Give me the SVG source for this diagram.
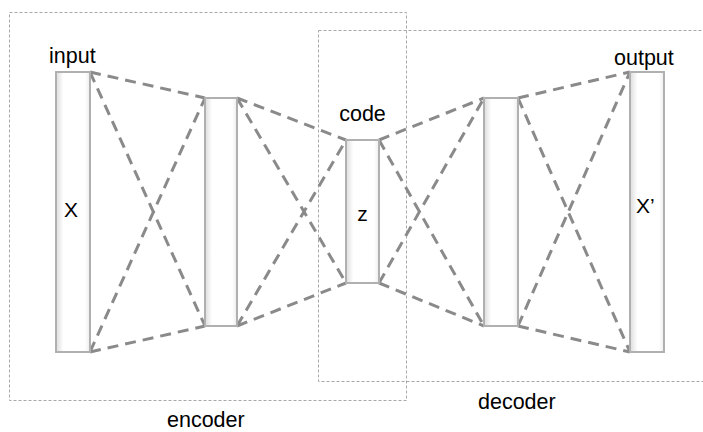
<svg xmlns="http://www.w3.org/2000/svg" width="703" height="432" viewBox="0 0 703 432">
<defs>
<linearGradient id="lay" x1="0" y1="0" x2="1" y2="0">
<stop offset="0" stop-color="#dcdcdc"/>
<stop offset="0.22" stop-color="#ffffff"/>
<stop offset="0.85" stop-color="#ffffff"/>
<stop offset="1" stop-color="#ececec"/>
</linearGradient>
</defs>
<style>
.grp{fill:none;stroke:#a8a8a8;stroke-width:1;stroke-dasharray:3 2}
.layer{fill:url(#lay);stroke:#b0b0b0;stroke-width:2}
.conn{stroke:#8a8a8a;stroke-width:3;stroke-dasharray:11 7;fill:none}
text{font-family:"Liberation Sans",Arial,sans-serif;font-size:21.5px;fill:#000}
.v{font-size:21px}
</style>
<rect width="703" height="432" fill="#fff"/>
<g id="encoder">
<rect class="grp" x="9.5" y="12.5" width="397" height="388"/>
<text x="167" y="427">encoder</text>
</g>
<g id="decoder">
<rect class="grp" x="318.5" y="30.5" width="400" height="351"/>
<text x="478" y="409">decoder</text>
</g>
<g id="connectors">
<line class="conn" x1="90" y1="72" x2="205" y2="98"/>
<line class="conn" x1="90" y1="72" x2="205" y2="326"/>
<line class="conn" x1="90" y1="352" x2="205" y2="98"/>
<line class="conn" x1="90" y1="352" x2="205" y2="326"/>
<line class="conn" x1="237" y1="98" x2="346" y2="140"/>
<line class="conn" x1="237" y1="98" x2="346" y2="283"/>
<line class="conn" x1="237" y1="326" x2="346" y2="140"/>
<line class="conn" x1="237" y1="326" x2="346" y2="283"/>
<line class="conn" x1="379" y1="140" x2="484" y2="98"/>
<line class="conn" x1="379" y1="140" x2="484" y2="326"/>
<line class="conn" x1="379" y1="283" x2="484" y2="98"/>
<line class="conn" x1="379" y1="283" x2="484" y2="326"/>
<line class="conn" x1="518" y1="98" x2="630" y2="72"/>
<line class="conn" x1="518" y1="98" x2="630" y2="352"/>
<line class="conn" x1="518" y1="326" x2="630" y2="72"/>
<line class="conn" x1="518" y1="326" x2="630" y2="352"/>
</g>
<g id="input">
<rect class="layer" x="56" y="72" width="34" height="280"/>
<text x="49" y="63">input</text>
<text class="v" x="71" y="217" text-anchor="middle">X</text>
</g>
<g id="hidden1">
<rect class="layer" x="205" y="98" width="32" height="228"/>
</g>
<g id="code">
<rect class="layer" x="346" y="140" width="33" height="143"/>
<text x="362.5" y="121" text-anchor="middle">code</text>
<text class="v" x="362.5" y="221" text-anchor="middle">z</text>
</g>
<g id="hidden2">
<rect class="layer" x="484" y="98" width="34" height="228"/>
</g>
<g id="output">
<rect class="layer" x="630" y="72" width="34" height="280"/>
<text x="614" y="65">output</text>
<text class="v" x="636" y="213">X’</text>
</g>
</svg>
